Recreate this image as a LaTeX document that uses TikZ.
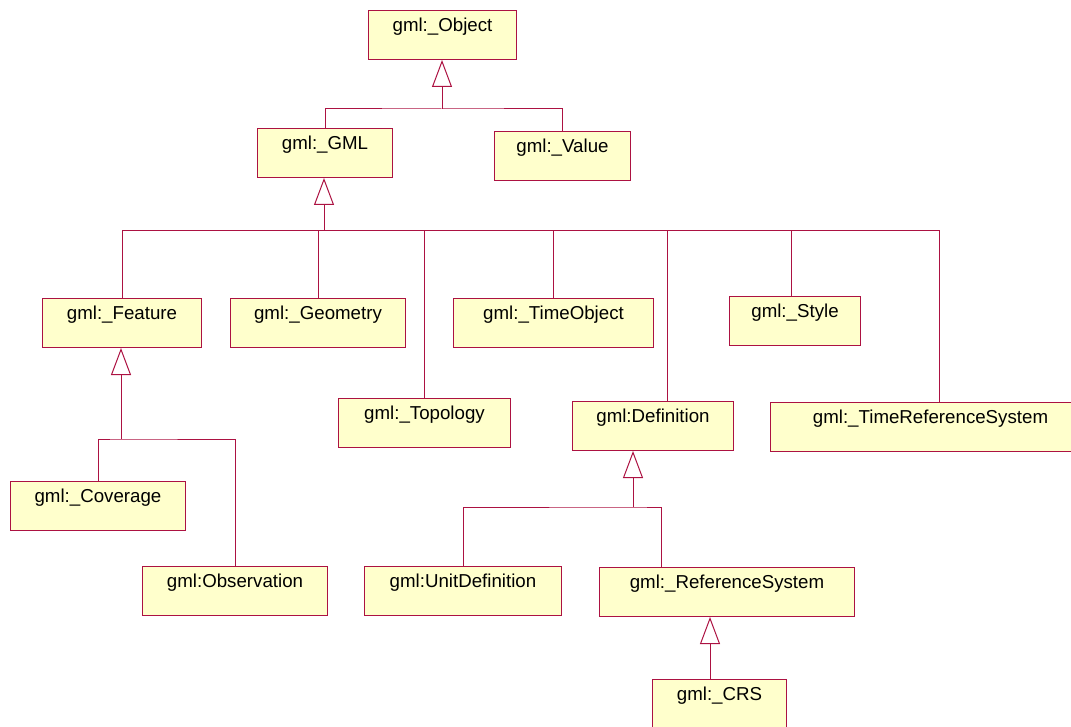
\documentclass[tikz,border=0pt]{standalone}
\usepackage{fontspec}
\setmainfont{Liberation Sans}
\usetikzlibrary{arrows.meta}
\definecolor{umlline}{RGB}{172,18,66}
\definecolor{umlfill}{RGB}{255,255,204}

\begin{document}
\begin{tikzpicture}[x=1pt, y=-1pt,
        cls/.style={draw=umlline, fill=umlfill, line width=1pt, anchor=north west,
            inner xsep=0pt, inner ysep=0pt, text height=21pt, text depth=28pt,
            font=\fontsize{18.7}{20}\selectfont},
        link/.style={draw=umlline, line width=1pt},
        gen/.style={link, -{Triangle[open, length=27pt, width=20pt]}}]
        \useasboundingbox (0,0) rectangle (1071,727);
        \clip (0,0) rectangle (1071,727);

        % classes
        \node[cls, minimum width=148pt] (Object) at (368,10) {gml:\_Object};
        \node[cls, minimum width=135pt] (GML) at (257,128) {gml:\_GML};
        \node[cls, minimum width=136pt] (Value) at (494,131) {gml:\_Value};
        \node[cls, minimum width=159pt] (Feature) at (42,298) {gml:\_Feature};
        \node[cls, minimum width=175pt] (Geometry) at (230,298) {gml:\_Geometry};
        \node[cls, minimum width=200pt] (TimeObject) at (453,298) {gml:\_TimeObject};
        \node[cls, minimum width=131pt] (Style) at (729,296) {gml:\_Style};
        \node[cls, minimum width=172pt] (Topology) at (338,398) {gml:\_Topology};
        \node[cls, minimum width=161pt] (Definition) at (572,401) {gml:Definition};
        \node[cls, minimum width=320pt] (TimeRef) at (770,402) {gml:\_TimeReferenceSystem};
        \node[cls, minimum width=175pt] (Coverage) at (10,481) {gml:\_Coverage};
        \node[cls, minimum width=185pt] (Observation) at (142,566) {gml:Observation};
        \node[cls, minimum width=197pt] (UnitDef) at (364,566) {gml:UnitDefinition};
        \node[cls, minimum width=255pt] (RefSys) at (599,567) {gml:\_ReferenceSystem};
        \node[cls, minimum width=134pt, text depth=50pt] (CRS) at (652,679) {gml:\_CRS};

        % junctions
        \coordinate (jObj) at (442,109);
        \coordinate (jGML) at (324,231);
        \coordinate (busR) at (939,231);
        \coordinate (jFeat) at (121,439);
        \coordinate (jDef) at (633,507);
        \coordinate (dRS) at (661,507);
        \coordinate (jRS) at (710,679);

        % generalisations
        \draw[gen] (jObj) -- (jObj |- Object.south);
        \draw[link] (GML.north) |- (jObj) -| (Value.north);

        \draw[gen] (jGML) -- (jGML |- GML.south);
        \draw[link] (Feature.north) |- (busR) -- (busR |- TimeRef.north);
        \foreach \n/\dx in {Geometry/0, Topology/0, TimeObject/0, Definition/14, Style/-4}
            \draw[link] ([xshift=\dx pt]\n.north) -- ([xshift=\dx pt]\n.north |- busR);

        \draw[gen] (jFeat) -- (jFeat |- Feature.south);
        \draw[link] (Coverage.north) |- (jFeat) -| (Observation.north);

        \draw[gen] (jDef) -- (jDef |- Definition.south);
        \draw[link] (UnitDef.north) |- (jDef) -- (dRS) -- (dRS |- RefSys.north);

        \draw[gen] (jRS) -- (jRS |- RefSys.south);
    \end{tikzpicture}
\end{document}
